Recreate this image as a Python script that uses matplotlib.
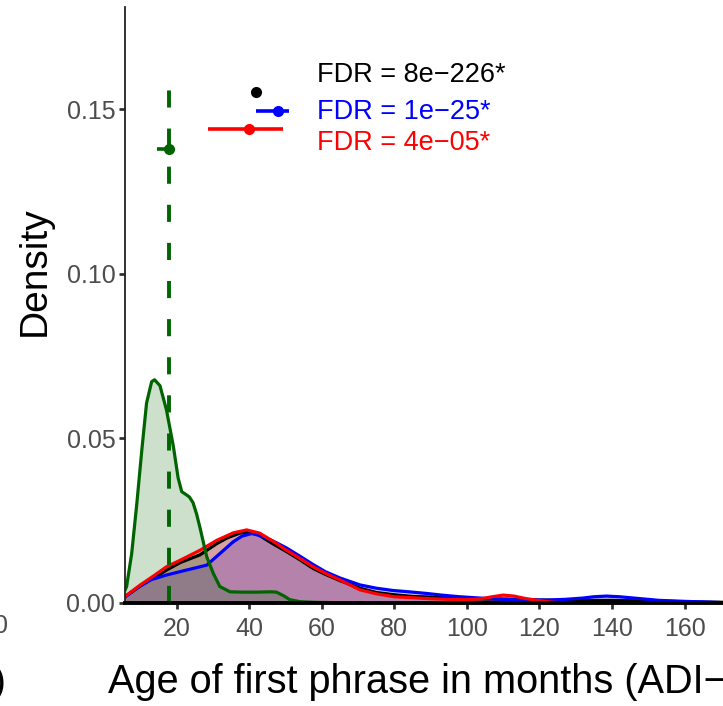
import matplotlib
matplotlib.use("Agg")
import matplotlib.pyplot as plt

plt.rcParams['font.family'] = ['Liberation Sans', 'DejaVu Sans']

# density curves (age in months, density)
black_x = [5.8, 10, 14, 17.2, 21, 26.4, 31.0, 34, 37.4, 40, 42, 44, 46.5, 50.3, 54, 57.6, 61, 65, 70.5,
           75, 80, 85, 90, 95, 100, 105, 110, 115, 120, 125, 130, 135, 140, 145, 150, 155, 160, 165, 171]
black_y = [0.002, 0.0052, 0.0078, 0.010, 0.0123, 0.0146, 0.018, 0.0198, 0.0212, 0.0216, 0.0212, 0.0197,
           0.018, 0.0156, 0.0131, 0.0105, 0.0087, 0.0068, 0.0045, 0.0032, 0.0025, 0.002, 0.0018, 0.0015,
           0.0013, 0.0012, 0.0012, 0.0011, 0.0009, 0.0008, 0.0008, 0.0008, 0.0008, 0.0007, 0.0006, 0.0005,
           0.0004, 0.0003, 0.0002]

blue_x = [5.8, 9, 12.7, 17.2, 22.7, 28.3, 31.9, 35.6, 38, 40.7, 42.5, 44.8, 47.5, 50.3, 54, 57.6, 61, 65.0,
          70.5, 75, 79.6, 84, 88.9, 93, 98.0, 105, 110, 116.4, 122, 127, 132, 135, 138.5, 142, 146, 153, 160,
          166, 171]
blue_y = [0.0018, 0.0045, 0.007, 0.0085, 0.010, 0.0115, 0.015, 0.0186, 0.0203, 0.0211, 0.0206, 0.0197,
          0.0183, 0.0167, 0.0142, 0.0117, 0.0095, 0.0076, 0.0055, 0.0045, 0.0038, 0.0034, 0.0029, 0.0024,
          0.0019, 0.0014, 0.0011, 0.0009, 0.0009, 0.0011, 0.0015, 0.0019, 0.0021, 0.0019, 0.0015, 0.0008,
          0.0005, 0.0003, 0.0001]

red_x = [5.8, 10, 14, 17.2, 21, 26.4, 31.0, 35.6, 39.3, 42.9, 46.5, 50.3, 54, 57.6, 61, 65.0, 70.5, 75,
         80, 85, 90, 95, 100, 104, 107, 110, 113, 116, 120, 123, 126]
red_y = [0.002, 0.0055, 0.0085, 0.011, 0.013, 0.016, 0.019, 0.0213, 0.0222, 0.0212, 0.0188, 0.016, 0.0135,
         0.011, 0.009, 0.007, 0.004, 0.0028, 0.0019, 0.0016, 0.0013, 0.0011, 0.001, 0.0013, 0.0019, 0.0024,
         0.0021, 0.0014, 0.0007, 0.0003, 0.0001]

green_x = [5.8, 6.2, 7.6, 9.0, 10.4, 11.7, 13.1, 13.9, 15.4, 17.2, 19.1, 20.4, 21.4, 22.5, 23.5, 24.5,
           25.5, 26.4, 28.3, 30.1, 31.9, 34.7, 38, 42, 46, 47.5, 49.5, 51.2, 54, 58, 64, 75, 171]
green_y = [0.004, 0.005, 0.015, 0.030, 0.0465, 0.0607, 0.0672, 0.0678, 0.066, 0.0586, 0.0475, 0.038,
           0.0338, 0.0330, 0.0322, 0.0305, 0.027, 0.023, 0.014, 0.009, 0.005, 0.0034, 0.0033, 0.0033,
           0.0034, 0.0033, 0.0022, 0.001, 0.0004, 0.0002, 0.0001, 0.0, 0.0]

# summary points (median with interval) drawn above the densities
groups = ['black', 'blue', 'red', 'green']
colors = ['#000000', '#0000FF', '#FF0000', '#006400']
medians = [42.0, 47.8, 40.0, 18.0]
lows = [42.0, 41.8, 28.7, 14.6]
highs = [42.0, 51.0, 49.2, 18.0]
point_y = [0.1553, 0.1495, 0.1438, 0.1379]
green_line_top = 0.157

fdr_labels = ['FDR = 8e\u2212226*', 'FDR = 1e\u221225*', 'FDR = 4e\u221205*']
fdr_colors = ['#000000', '#0000FF', '#FF0000']
fdr_y = [0.1603, 0.1492, 0.1397]
fdr_x = 58.6

x_ticks = [20, 40, 60, 80, 100, 120, 140, 160]
y_ticks = [0.00, 0.05, 0.10, 0.15]

W, H = 723, 706
fig = plt.figure(figsize=(W / 100, H / 100), dpi=100)
ax = fig.add_axes([125 / W, 1 - 603 / H, 1 - 125 / W, (603 - 7) / H])

curves = [(black_x, black_y), (blue_x, blue_y), (red_x, red_y), (green_x, green_y)]
for (cx, cy), col in zip(curves, colors):
    ax.fill_between(cx, 0, cy, color=col, alpha=0.2, lw=0)
    ax.plot(cx, cy, color=col, lw=2.3, solid_joinstyle='round')

ax.plot([medians[3], medians[3]], [0, green_line_top], color=colors[3], lw=2.8,
        ls=(0, (4.4, 5.4)))

for m, lo, hi, py, col in zip(medians, lows, highs, point_y, colors):
    ax.plot([lo, hi], [py, py], color=col, lw=2.6, solid_capstyle='butt')
    ax.plot(m, py, 'o', color=col, ms=8, mec='none')

for lab, col, ty in zip(fdr_labels, fdr_colors, fdr_y):
    ax.text(fdr_x, ty, lab, color=col, fontsize=19.5, ha='left', va='center')

ax.set_xlim(5.76, 170.6)
ax.set_ylim(0, 0.181)
ax.set_xticks(x_ticks)
ax.set_xticklabels([str(t) for t in x_ticks])
ax.set_yticks(y_ticks)
ax.set_yticklabels(['%.2f' % t for t in y_ticks])

for s in ['top', 'right']:
    ax.spines[s].set_visible(False)
ax.spines['left'].set_linewidth(1.3)
ax.spines['left'].set_color('#222222')
ax.spines['bottom'].set_linewidth(2.8)
ax.spines['bottom'].set_color('#000000')
ax.tick_params(axis='both', length=4, width=2, color='#333333', labelsize=18,
               labelcolor='#4D4D4D')
ax.tick_params(axis='x', pad=6)
ax.tick_params(axis='y', pad=3)

fig.text(34.5 / W, 1 - 271.5 / H, 'Density', rotation=90, fontsize=28, ha='center', va='center')
fig.text(108 / W, 1 - 693 / H, 'Age of first phrase in months (ADI\u2212R)', fontsize=28.6,
         ha='left', va='baseline')

# pieces of the neighbouring panel at the left edge
fig.text(8 / W, 1 - 626 / H, '0', fontsize=18, color='#4D4D4D', ha='right', va='center')
fig.text(6 / W, 1 - 693 / H, ')', fontsize=28, ha='right', va='baseline')

fig.savefig('out.png', dpi=100)
